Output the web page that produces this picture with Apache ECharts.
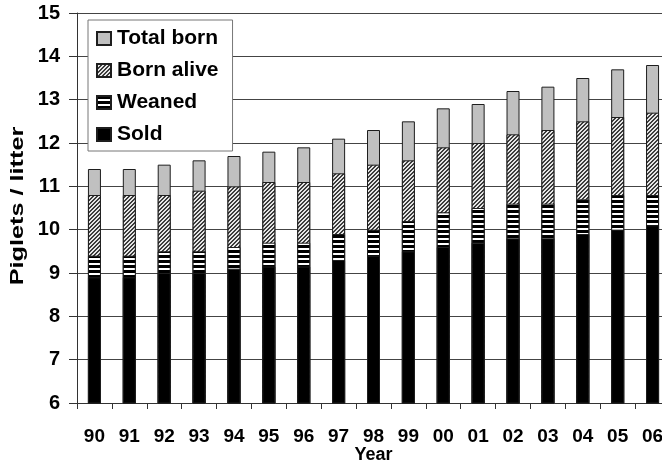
<!DOCTYPE html>
<html><head><meta charset="utf-8">
<script src="https://cdn.jsdelivr.net/npm/echarts@6/dist/echarts.min.js"></script>
<style>html,body{margin:0;padding:0;background:#fff}#c{width:662px;height:464px}</style>
</head><body><div id="c"></div>
<script>
// Data (cumulative levels per litter)
const years      = ['90','91','92','93','94','95','96','97','98','99','00','01','02','03','04','05','06'];
const totalBorn  = [11.4,11.4,11.5,11.6,11.7,11.8,11.9,12.1,12.3,12.5,12.8,12.9,13.2,13.3,13.5,13.7,13.8];
const bornAlive  = [10.8,10.8,10.8,10.9,11.0,11.1,11.1,11.3,11.5,11.6,11.9,12.0,12.2,12.3,12.5,12.6,12.7];
const weaned     = [9.4,9.4,9.5,9.5,9.6,9.7,9.7,9.9,10.0,10.2,10.4,10.5,10.6,10.6,10.7,10.8,10.8];
const sold       = [8.9,8.9,9.0,9.0,9.1,9.15,9.15,9.3,9.4,9.5,9.6,9.7,9.8,9.8,9.9,10.0,10.1];
const yMin = 6, yMax = 15, yStep = 1;

const FONT = "'Liberation Sans', Arial, sans-serif";

function makeHatch() {
  const n = 4, c = document.createElement('canvas');
  c.width = n; c.height = n;
  const ctx = c.getContext('2d');
  const img = ctx.createImageData(n, n);
  for (let y = 0; y < n; y++) for (let x = 0; x < n; x++) {
    const dark = ((x + y) % n) < 2;
    const v = dark ? 60 : 230, i = (y * n + x) * 4;
    img.data[i] = v; img.data[i+1] = v; img.data[i+2] = v; img.data[i+3] = 255;
  }
  ctx.putImageData(img, 0, 0);
  return c;
}
function makeStripes() {
  const w = 4, h = 5, c = document.createElement('canvas');
  c.width = w; c.height = h;
  const ctx = c.getContext('2d');
  ctx.fillStyle = '#ffffff'; ctx.fillRect(0, 0, w, h);
  ctx.fillStyle = '#000000'; ctx.fillRect(0, 0, w, 3);
  return c;
}

const chart = echarts.init(document.getElementById('c'));
const border = {borderColor: '#1e1e1e', borderWidth: 1};
chart.setOption({
  animation: false,
  backgroundColor: '#fff',
  grid: {left: 77, top: 13, width: 593, height: 390, containLabel: false, outerBoundsMode: 'none'},
  legend: {
    orient: 'vertical', left: 88, top: 20,
    padding: [8, 14, 6, 8], itemGap: 11, itemWidth: 14, itemHeight: 13,
    icon: 'rect', selectedMode: false,
    backgroundColor: '#fff', borderColor: '#777', borderWidth: 1,
    textStyle: {fontFamily: FONT, fontWeight: 'bold', fontSize: 21, color: '#000', lineHeight: 20, padding: [0,0,0,1]},
    data: ['Total born', 'Born alive', 'Weaned', 'Sold']
  },
  xAxis: {
    type: 'category', data: years, boundaryGap: true,
    name: 'Year', nameLocation: 'middle', nameGap: 43, nameMoveOverlap: false,
    nameTextStyle: {fontFamily: FONT, fontWeight: 'bold', fontSize: 18, color: '#000'},
    axisLine: {lineStyle: {color: '#333', width: 1}},
    axisTick: {show: true, length: 6, lineStyle: {color: '#333'}},
    axisLabel: {interval: 0, margin: 24, fontFamily: FONT, fontWeight: 'bold', fontSize: 19, color: '#000'}
  },
  yAxis: {
    type: 'value', min: yMin, max: yMax, interval: yStep,
    axisLine: {show: true, lineStyle: {color: '#333', width: 1}},
    axisTick: {show: true, length: 8, lineStyle: {color: '#333'}},
    axisLabel: {margin: 17, fontFamily: FONT, fontWeight: 'bold', fontSize: 20, color: '#000'},
    splitLine: {show: true, lineStyle: {color: '#444', width: 1}}
  },
  graphic: [{
    type: 'text', x: 18, y: 206, rotation: Math.PI / 2, scaleX: 1.33, scaleY: 1,
    style: {text: 'Piglets / litter', font: "bold 19px 'Liberation Sans', Arial, sans-serif", fill: '#000', align: 'center', verticalAlign: 'middle'}
  }],
  series: [
    {name: 'Total born', type: 'bar', data: totalBorn, barWidth: 13, barGap: '-100%', z: 2,
     itemStyle: Object.assign({color: '#c0c0c0'}, border)},
    {name: 'Born alive', type: 'bar', data: bornAlive, barWidth: 13, barGap: '-100%', z: 3,
     itemStyle: Object.assign({color: {image: makeHatch(), repeat: 'repeat'}}, border)},
    {name: 'Weaned', type: 'bar', data: weaned, barWidth: 13, barGap: '-100%', z: 4,
     itemStyle: Object.assign({color: {image: makeStripes(), repeat: 'repeat'}}, border)},
    {name: 'Sold', type: 'bar', data: sold, barWidth: 13, barGap: '-100%', z: 5,
     itemStyle: Object.assign({color: '#000'}, border)}
  ]
});
</script></body></html>
